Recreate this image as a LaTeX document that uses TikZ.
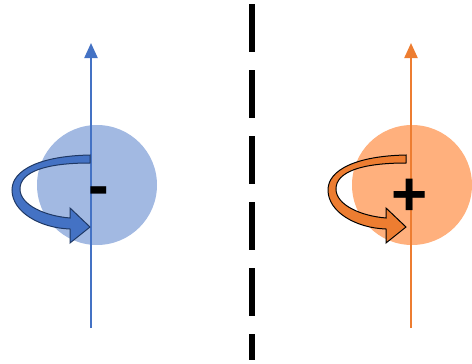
\documentclass[tikz,border=0pt]{standalone}
\usepackage{fontspec}
\newfontfamily\signfont{Liberation Sans}
\usetikzlibrary{arrows.meta}
\definecolor{axisblue}{HTML}{4472C4}
\definecolor{ballblue}{HTML}{A2B9E2}
\definecolor{rimblue}{HTML}{1F3864}
\definecolor{axisorange}{HTML}{ED7D31}
\definecolor{ballorange}{HTML}{FFB07D}
\tikzset{
  ball/.style={circle, draw=none, minimum size=120pt, inner sep=0pt},
  spinaxis/.style={-{Triangle[length=15pt, width=13pt]}, line width=2.2pt},
  divider/.style={line width=6pt, dash pattern=on 48pt off 18pt},
  signtext/.style={font=\signfont\bfseries, inner sep=0pt, text=black}
}
\newcommand{\spinarrow}[3]{
  \begin{scope}[shift={(#1,0)}]
    \filldraw[fill=#2, draw=#3, line width=1pt]
      (90,155) .. controls (40,156) and (12,170) .. (12,190)
      .. controls (12,212) and (40,228) .. (70,229)
      -- (70,243) -- (90,227) -- (70,208) -- (70,218)
      .. controls (45,216) and (20,205) .. (20,189)
      .. controls (20,172) and (45,163) .. (90,163) -- cycle;
  \end{scope}
}

\begin{document}
\begin{tikzpicture}[x=1pt, y=-1pt]
  \useasboundingbox (0,0) rectangle (472,364);

  % negative side
  \node[ball, fill=ballblue] (negball) at (97,185) {};
  \coordinate (negfoot) at (91,328);
  \coordinate (neghead) at (91,43);
  \draw[spinaxis, axisblue] (negfoot) -- (neghead);
  \spinarrow{0}{axisblue}{rimblue}
  \node[signtext, font=\signfont\bfseries\fontsize{62}{62}\selectfont] (negsign) at (98.5,197) {-};

  % divider
  \coordinate (divtop) at (252,4);
  \coordinate (divbot) at (252,360);
  \draw[divider] (divtop) -- (divbot);

  % positive side
  \node[ball, fill=ballorange] (posball) at (412,185) {};
  \coordinate (posfoot) at (411,328);
  \coordinate (poshead) at (411,43);
  \draw[spinaxis, axisorange] (posfoot) -- (poshead);
  \spinarrow{316}{axisorange}{black}
  \node[signtext, font=\signfont\bfseries\fontsize{62}{62}\selectfont] (possign) at (410,197) {+};
\end{tikzpicture}
\end{document}
